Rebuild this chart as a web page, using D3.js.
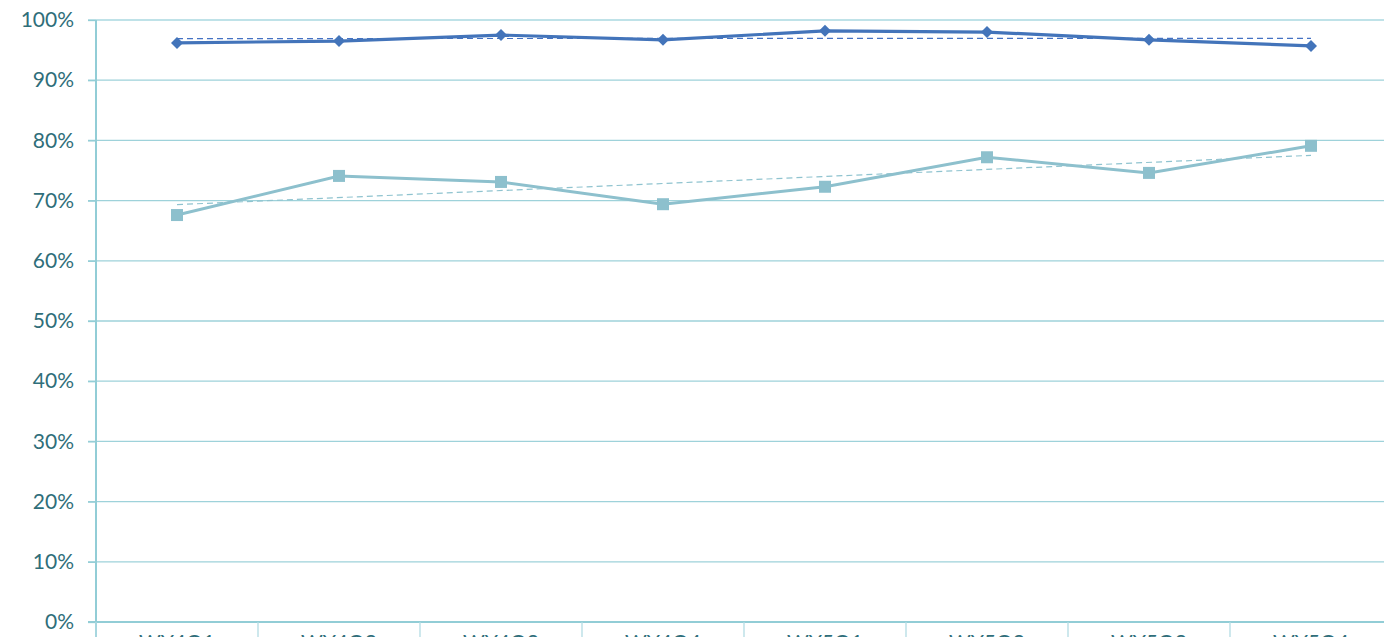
<!DOCTYPE html>
<html><head><meta charset="utf-8">
<script src="https://cdn.jsdelivr.net/npm/d3@7"></script>
<style>html,body{margin:0;padding:0;background:#fff;overflow:hidden}</style>
</head><body>
<svg id="c" width="1384" height="637"></svg>
<script>
const categories = ["WY4Q1","WY4Q2","WY4Q3","WY4Q4","WY5Q1","WY5Q2","WY5Q3","WY5Q4"];
const seriesA = [96.2, 96.5, 97.5, 96.7, 98.2, 98.0, 96.7, 95.7];
const seriesB = [67.6, 74.1, 73.1, 69.4, 72.3, 77.2, 74.6, 79.1];
const yTicks = [0,10,20,30,40,50,60,70,80,90,100];

(function(){
const svg = d3.select("#c");
const mLeft = 96, mTop = 20, mBottom = 622, bandW = 162;
const x = d3.scaleBand().domain(categories).range([mLeft, mLeft + bandW*categories.length]);
const y = d3.scaleLinear().domain([0,100]).range([mBottom, mTop]);
const cx = d => x(d) + x.bandwidth()/2;
const font = "Lato, 'Open Sans', sans-serif";
const textCol = "#2F6E7A";
const gridCol = "#9ED2DA";

// gridlines
svg.append("g").selectAll("line").data(yTicks.filter(t=>t>0)).join("line")
  .attr("x1", 88).attr("x2", 1384)
  .attr("y1", d=>y(d)).attr("y2", d=>y(d))
  .attr("stroke", d => d===100 ? "#BFE2E8" : gridCol).attr("stroke-width", d=> d===100?2:1.3);

// y axis
const yAxis = d3.axisLeft(y).tickValues(yTicks).tickFormat(d=>d+"%").tickSize(8).tickPadding(14);
const ga = svg.append("g").attr("transform", `translate(${mLeft},0)`).call(yAxis);
ga.select(".domain").remove();
ga.selectAll(".tick line").attr("stroke", "#92CDD6").attr("stroke-width",1.3);
ga.selectAll("text").attr("fill", textCol).style("font-family", font).style("font-size","21px");
svg.append("line").attr("x1",mLeft).attr("x2",mLeft).attr("y1",mTop).attr("y2",637)
  .attr("stroke","#92CDD6").attr("stroke-width",2);

// x axis
svg.append("line").attr("x1",88).attr("x2",1384).attr("y1",mBottom).attr("y2",mBottom)
  .attr("stroke","#92CDD6").attr("stroke-width",2);
svg.append("g").selectAll("line").data(categories).join("line")
  .attr("x1", d=>x(d)).attr("x2", d=>x(d)).attr("y1", mBottom).attr("y2", 637)
  .attr("stroke","#B3DCE3").attr("stroke-width",1.3);
svg.append("g").selectAll("text").data(categories).join("text")
  .attr("x", cx).attr("y", 650).attr("text-anchor","middle")
  .attr("fill", textCol).style("font-family", font).style("font-size","21px").text(d=>d);

// trend lines
function trend(vals){
  const n=vals.length, xs=vals.map((v,i)=>i+1);
  const mx=d3.mean(xs), my=d3.mean(vals);
  const b=d3.sum(xs.map((xi,i)=>(xi-mx)*(vals[i]-my)))/d3.sum(xs.map(xi=>(xi-mx)**2));
  const a=my-b*mx;
  return [a+b*1, a+b*n];
}
function drawTrend(vals, col){
  const t=trend(vals);
  svg.append("line").attr("x1",cx(categories[0])).attr("x2",cx(categories[categories.length-1]))
    .attr("y1",y(t[0])).attr("y2",y(t[1])).attr("stroke",col).attr("stroke-width",1.2)
    .attr("stroke-dasharray","6,4");
}
drawTrend(seriesA, "#4472C4");
drawTrend(seriesB, "#8FC3CF");

const line = d3.line().x((d,i)=>cx(categories[i])).y(d=>y(d));
svg.append("path").datum(seriesB).attr("d",line).attr("fill","none").attr("stroke","#8DC0CD").attr("stroke-width",3);
svg.append("path").datum(seriesA).attr("d",line).attr("fill","none").attr("stroke","#4374BA").attr("stroke-width",3.2);

svg.append("g").selectAll("rect").data(seriesB).join("rect")
  .attr("x",(d,i)=>cx(categories[i])-6).attr("y",d=>y(d)-6).attr("width",12).attr("height",12)
  .attr("fill","#8DC0CD");
svg.append("g").selectAll("path").data(seriesA).join("path")
  .attr("d", d3.symbol().type(d3.symbolSquare).size(72))
  .attr("transform",(d,i)=>`translate(${cx(categories[i])},${y(d)}) rotate(45)`)
  .attr("fill","#4374BA");
})();
</script>
</body></html>
